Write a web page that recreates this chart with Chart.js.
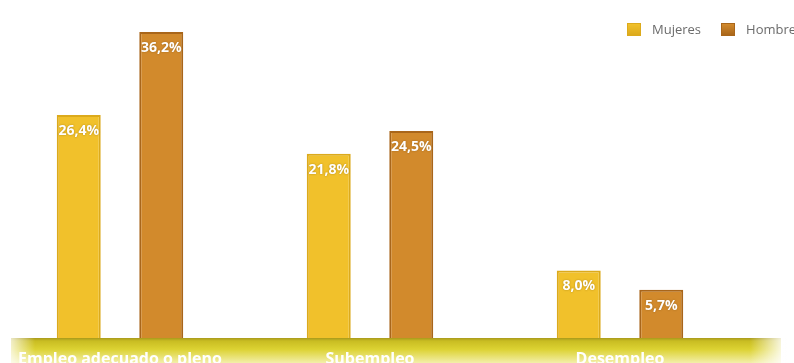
<!DOCTYPE html>
<html>
<head>
<meta charset="utf-8">
<script src="https://cdn.jsdelivr.net/npm/chart.js@4.4.1/dist/chart.umd.min.js"></script>
<style>
  html, body { margin: 0; padding: 0; background: #fff; }
  #wrap { position: relative; width: 794px; height: 363px; overflow: hidden; }
  #grafico { position: absolute; left: -5px; top: 0; }
  #leyenda { position: absolute; left: 627px; top: 20px; display: flex; white-space: nowrap;
             font-family: "Open Sans", sans-serif; font-size: 13px; color: #6b6b6b; }
  #leyenda span.item { display: flex; align-items: center; margin-right: 20px; }
  #leyenda span.caja { width: 14px; height: 13px; margin-right: 11px; box-sizing: border-box; }
</style>
</head>
<body>
<div id="wrap">
  <canvas id="grafico" width="800" height="363"></canvas>
  <div id="leyenda"></div>
</div>
<script>
// Datos
const categorias = ['Empleo adecuado o pleno', 'Subempleo', 'Desempleo'];
const mujeres = [26.4, 21.8, 8.0];
const hombres = [36.2, 24.5, 5.7];

const series = [
  { label: 'Mujeres', data: mujeres, fondo: '#f1c12b', borde: '#dcaa1c' },
  { label: 'Hombres', data: hombres, fondo: '#d28a2c', borde: '#a9661a' }
];

// Etiquetas de valor dentro de las barras
const etiquetasValor = {
  id: 'etiquetasValor',
  afterDatasetsDraw(chart) {
    const ctx = chart.ctx;
    ctx.save();
    ctx.font = 'bold 14px "Open Sans", sans-serif';
    ctx.fillStyle = '#fff';
    ctx.textAlign = 'center';
    ctx.textBaseline = 'middle';
    ctx.shadowColor = 'rgba(90,60,0,0.45)';
    ctx.shadowBlur = 2;
    chart.data.datasets.forEach((ds, i) => {
      chart.getDatasetMeta(i).data.forEach((bar, j) => {
        const txt = ds.data[j].toFixed(1).replace('.', ',') + '%';
        ctx.fillText(txt, bar.x, bar.y + 16);
      });
    });
    ctx.restore();
  }
};

// Franja amarilla bajo el eje
const franjaBase = {
  id: 'franjaBase',
  beforeDraw(chart) {
    const ctx = chart.ctx;
    const top = chart.chartArea.bottom;
    const bottom = chart.height;
    ctx.save();
    const gv = ctx.createLinearGradient(0, top, 0, bottom);
    gv.addColorStop(0, '#a99a1c');
    gv.addColorStop(0.12, '#c9bd22');
    gv.addColorStop(0.45, '#dcd232');
    gv.addColorStop(1, '#f3efaa');
    ctx.fillStyle = gv;
    ctx.fillRect(16, top, 770, bottom - top);
    // desvanecer extremos
    const gl = ctx.createLinearGradient(8, 0, 40, 0);
    gl.addColorStop(0, 'rgba(255,255,255,1)');
    gl.addColorStop(1, 'rgba(255,255,255,0)');
    ctx.fillStyle = gl;
    ctx.fillRect(8, top, 32, bottom - top);
    const gr = ctx.createLinearGradient(755, 0, 792, 0);
    gr.addColorStop(0, 'rgba(255,255,255,0)');
    gr.addColorStop(1, 'rgba(255,255,255,1)');
    ctx.fillStyle = gr;
    ctx.fillRect(755, top, 40, bottom - top);
    ctx.restore();
  }
};

const grafico = new Chart(document.getElementById('grafico'), {
  type: 'bar',
  data: {
    labels: categorias,
    datasets: series.map(s => ({
      label: s.label,
      data: s.data,
      backgroundColor: s.fondo,
      borderColor: s.borde,
      borderWidth: 2,
      borderSkipped: 'bottom',
      categoryPercentage: 0.66,
      barPercentage: 0.533
    }))
  },
  options: {
    responsive: false,
    animation: false,
    layout: { padding: { left: 0, right: 50, top: 0, bottom: 0 } },
    plugins: {
      legend: { display: false },
      tooltip: { enabled: false }
    },
    scales: {
      x: {
        grid: { display: false },
        border: { display: false },
        ticks: {
          color: '#ffffff',
          padding: 4,
          maxRotation: 0,
          autoSkip: false,
          font: { family: '"Open Sans", sans-serif', size: 16, weight: 'bold' }
        },
        afterFit: s => { s.height = 25; }
      },
      y: {
        display: false,
        min: 0,
        max: 40
      }
    }
  },
  plugins: [franjaBase, etiquetasValor]
});

// Leyenda en HTML
const leyenda = document.getElementById('leyenda');
series.forEach(s => {
  const item = document.createElement('span');
  item.className = 'item';
  const caja = document.createElement('span');
  caja.className = 'caja';
  caja.style.background = 'linear-gradient(180deg, ' + s.fondo + ', ' + s.borde + ')';
  caja.style.border = '1px solid ' + s.borde;
  item.appendChild(caja);
  item.appendChild(document.createTextNode(s.label));
  leyenda.appendChild(item);
});
</script>
</body>
</html>
